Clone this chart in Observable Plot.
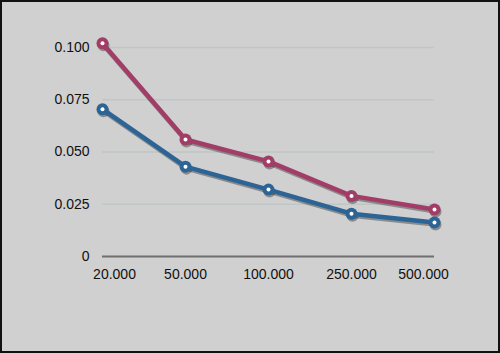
<!DOCTYPE html>
<html>
<head>
<meta charset="utf-8">
<script src="https://cdn.jsdelivr.net/npm/d3@7"></script>
<script src="https://cdn.jsdelivr.net/npm/@observablehq/plot@0.6"></script>
<style>
  html, body { margin: 0; padding: 0; background: #d0d0d0; }
  #chart { width: 500px; height: 353px; box-sizing: border-box; border: 2px solid #111; overflow: hidden; background: #d0d0d0; }
  #chart svg { display: block; }
</style>
</head>
<body>
<div id="chart"></div>
<script>
const categories = ["20.000", "50.000", "100.000", "250.000", "500.000"];
const seriesNames = ["A", "B"];
const seriesA = [0.102, 0.056, 0.0455, 0.029, 0.0225];
const seriesB = [0.0705, 0.043, 0.032, 0.0205, 0.0163];
const yTicks = [0, 0.025, 0.05, 0.075, 0.1];
const colors = ["#a23d67", "#2d6496"];

const data = [];
categories.forEach((c, i) => {
  data.push({cat: c, value: seriesA[i], series: seriesNames[0]});
  data.push({cat: c, value: seriesB[i], series: seriesNames[1]});
});

const chart = Plot.plot({
  width: 496,
  height: 349,
  marginLeft: 100,
  marginRight: 64,
  marginTop: 45,
  marginBottom: 95,
  style: {background: "#d0d0d0", fontFamily: "Liberation Sans", fontSize: "14px", color: "#111"},
  x: {type: "point", domain: categories, padding: 0, label: null},
  y: {domain: [0, 0.1], label: null},
  color: {domain: seriesNames, range: colors},
  marks: [
    Plot.ruleY(yTicks.filter(d => d > 0), {stroke: "#bec6c6", strokeWidth: 1.5}),
    Plot.ruleY([0], {stroke: "#6e6e6e", strokeWidth: 2}),
    Plot.axisY({ticks: yTicks, tickSize: 0, tickPadding: 13, tickFormat: d => d === 0 ? "0" : d.toFixed(3), fill: "#111"}),
    Plot.axisX({ticks: categories.slice(0, 1), tickSize: 0, tickPadding: 13, fill: "#111", dx: 12}),
    Plot.axisX({ticks: categories.slice(1, 4), tickSize: 0, tickPadding: 13, fill: "#111"}),
    Plot.axisX({ticks: categories.slice(4), tickSize: 0, tickPadding: 13, fill: "#111", dx: -11}),
    Plot.line(data, {x: "cat", y: "value", z: "series", stroke: "#222", strokeOpacity: 0.4, strokeWidth: 4.5, dx: 1, dy: 2}),
    Plot.dot(data, {x: "cat", y: "value", fill: "#222", fillOpacity: 0.4, r: 6, dx: 1, dy: 2}),
    Plot.line(data, {x: "cat", y: "value", z: "series", stroke: "series", strokeWidth: 4.5}),
    Plot.dot(data, {x: "cat", y: "value", fill: "series", r: 6}),
    Plot.dot(data, {x: "cat", y: "value", fill: "#fff", r: 2})
  ]
});
document.getElementById("chart").appendChild(chart);
</script>
</body>
</html>
